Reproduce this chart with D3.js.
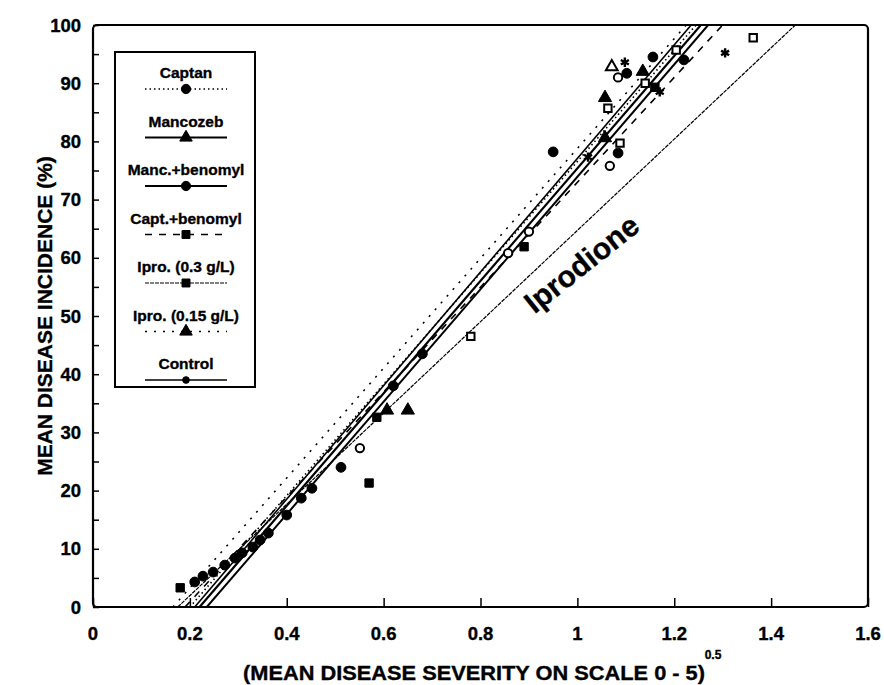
<!DOCTYPE html>
<html lang="en">
<head>
  <meta charset="UTF-8">
  <title>Mean disease incidence vs severity</title>
  <style>
    html, body { margin: 0; background: #fff; }
    text { font-family: 'Liberation Sans', Arial, sans-serif; font-weight: bold; fill: #000;
           stroke: #000; stroke-width: 0.35px; }
    .fit { fill: none; stroke: #000; }
  </style>
</head>
<body>
<svg id="chart" width="884" height="685" viewBox="0 0 884 685"></svg>
<script src="https://d3js.org/d3.v7.min.js"></script>
<script>

// ---- data ----
const seriesNames = ["Captan", "Mancozeb", "Manc.+benomyl", "Capt.+benomyl",
                     "Ipro. (0.3 g/L)", "Ipro. (0.15 g/L)", "Control"];

// regression lines: x where the line crosses 0 % and 100 %
const fitX0   = [0.200, 0.220, 0.235, 0.190, 0.175, 0.165, 0.210];
const fitX100 = [1.245, 1.255, 1.270, 1.300, 1.450, 1.225, 1.235];

const captanPts = [[0.95, 78.2], [0.512, 24], [0.452, 20.4], [0.43, 18.7], [1.084, 78],
                   [1.102, 91.7], [1.156, 94.5], [0.40, 15.8]];
const mancozebPts = [[0.65, 33.8], [1.057, 87.5], [1.135, 92], [0.607, 33.8]];
const mancBenPts = [[0.21, 4.3], [0.227, 5.3], [0.248, 6], [0.272, 7.2], [0.293, 8.4],
                    [0.308, 9.3], [0.33, 10.3], [0.345, 11.5], [0.362, 12.7], [1.22, 94],
                    [0.62, 38], [0.68, 43.5]];
const captBenPts = [[0.18, 3.3], [0.57, 21.3], [0.89, 61.9]];
const ipro03Pts = [[0.586, 32.6], [1.16, 89.3]];
const ipro15Pts = [[1.057, 80.6]];
const controlPts = [[1.305, 95.2], [1.098, 93.6], [1.022, 77.3], [1.17, 88.5]];
const seriesPts = [captanPts, mancozebPts, mancBenPts, captBenPts, ipro03Pts, ipro15Pts, controlPts];

const openCircles = [[0.551, 27.3], [0.857, 60.8], [1.067, 75.8], [1.084, 91], [0.90, 64.5]];
const openSquares = [[0.78, 46.5], [1.088, 79.7], [1.063, 85.7], [1.14, 90], [1.204, 95.7], [1.363, 97.8]];
const openTriangles = [[1.071, 92.8]];

const xTicks = [0, 0.2, 0.4, 0.6, 0.8, 1, 1.2, 1.4, 1.6];
const yTicks = [0, 10, 20, 30, 40, 50, 60, 70, 80, 90, 100];

// ---- styles per series ----
const dashes  = ["1.5,3", null, null, "7,7", "4,1", "2,7", null];
const widths  = [1.6, 2.2, 2, 1.6, 1.2, 1.6, 1.6];
const symbols = [d3.symbolCircle, d3.symbolTriangle, d3.symbolCircle, d3.symbolSquare,
                 d3.symbolSquare, d3.symbolTriangle, d3.symbolAsterisk];
const symSize = [75, 75, 75, 70, 70, 75, 60];

const svg = d3.select("#chart"),
    margin = {top: 25, right: 16, bottom: 78, left: 93},
    width = +svg.attr("width") - margin.left - margin.right,
    height = +svg.attr("height") - margin.top - margin.bottom;

const x = d3.scaleLinear().domain([0, 1.6]).range([0, width]);
const y = d3.scaleLinear().domain([0, 100]).range([height, 0]);

const g = svg.append("g").attr("transform", "translate(" + margin.left + "," + margin.top + ")");

svg.append("defs").append("clipPath").attr("id", "clip")
  .append("rect").attr("width", width).attr("height", height);

// axes with inward ticks
const yAxis = d3.axisLeft(y).tickValues(d3.range(0, 101, 5)).tickSize(-6).tickFormat("");
g.append("g").call(yAxis).call(a => a.select(".domain").remove())
  .selectAll("line").attr("stroke", "#000").attr("stroke-width", 1.5);
const xAxis = d3.axisBottom(x).tickValues(xTicks).tickSize(-9).tickFormat("");
g.append("g").attr("transform", "translate(0," + height + ")").call(xAxis)
  .call(a => a.select(".domain").remove())
  .selectAll("line").attr("stroke", "#000").attr("stroke-width", 1.5);

g.selectAll(".ylab").data(yTicks).join("text")
  .attr("x", -12).attr("y", d => y(d)).attr("dy", "0.36em")
  .attr("text-anchor", "end").style("font-size", "18.5px").text(d => d);
g.selectAll(".xlab").data(xTicks).join("text")
  .attr("x", d => x(d)).attr("y", height + 33)
  .attr("text-anchor", "middle").style("font-size", "18.5px").text(d => d);

// frame
g.append("rect").attr("width", width).attr("height", height)
  .attr("rx", 4).attr("fill", "none").attr("stroke", "#000").attr("stroke-width", 2.2);

// fit lines
const plot = g.append("g").attr("clip-path", "url(#clip)");
seriesNames.forEach((name, i) => {
  plot.append("line").attr("class", "fit")
    .attr("x1", x(fitX0[i])).attr("y1", y(0))
    .attr("x2", x(fitX100[i])).attr("y2", y(100))
    .attr("stroke-width", widths[i])
    .attr("stroke-dasharray", dashes[i]);
});

function drawSym(sel, pts, type, size, open) {
  sel.selectAll(null).data(pts).join("path")
    .attr("transform", d => "translate(" + x(d[0]) + "," + y(d[1]) + ")")
    .attr("d", d3.symbol(type, size))
    .attr("fill", open ? "#fff" : "#000")
    .attr("stroke", "#000")
    .attr("stroke-width", open ? 2 : (type === d3.symbolAsterisk ? 2.4 : 1));
}
seriesPts.forEach((pts, i) => drawSym(plot, pts, symbols[i], symSize[i], false));
drawSym(plot, openCircles, d3.symbolCircle, 55, true);
drawSym(plot, openSquares, d3.symbolSquare, 55, true);
drawSym(plot, openTriangles, d3.symbolTriangle, 60, true);

// Iprodione label
svg.append("text")
  .attr("transform", "translate(588,272) rotate(-38.5)")
  .attr("text-anchor", "middle").style("font-size", "30px").text("Iprodione");

// legend
const leg = svg.append("g").attr("transform", "translate(115,52)");
leg.append("rect").attr("width", 140).attr("height", 335)
  .attr("fill", "#fff").attr("stroke", "#000").attr("stroke-width", 2);
seriesNames.forEach((name, i) => {
  const ly = 37 + i * 48.5;
  leg.append("text").attr("x", 71).attr("y", ly - 11).attr("text-anchor", "middle")
    .style("font-size", "15.5px").text(name);
  leg.append("line").attr("x1", 30).attr("x2", 112).attr("y1", ly).attr("y2", ly)
    .attr("stroke", "#000").attr("stroke-width", widths[i]).attr("stroke-dasharray", dashes[i]);
  leg.append("path").attr("transform", "translate(71," + ly + ")")
    .attr("d", d3.symbol(symbols[i] === d3.symbolAsterisk ? d3.symbolCircle : symbols[i],
                         symbols[i] === d3.symbolAsterisk ? 35 : symSize[i] * 0.9))
    .attr("fill", "#000").attr("stroke", "#000");
});

// axis titles
svg.append("text")
  .attr("transform", "translate(52," + (margin.top + height / 2) + ") rotate(-90)")
  .attr("text-anchor", "middle").style("font-size", "21px")
  .text("MEAN DISEASE INCIDENCE (%)");
svg.append("text").attr("x", 474).attr("y", 680).attr("text-anchor", "middle")
  .attr("textLength", 462).attr("lengthAdjust", "spacingAndGlyphs")
  .style("font-size", "20px").text("(MEAN DISEASE SEVERITY ON SCALE 0 - 5)");
svg.append("text").attr("x", 713).attr("y", 659).attr("text-anchor", "middle")
  .style("font-size", "12px").text("0.5");
</script>
</body>
</html>
